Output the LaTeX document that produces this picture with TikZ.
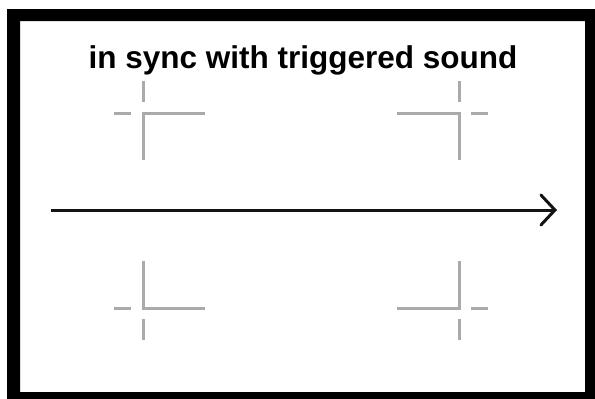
\documentclass[tikz,border=0pt]{standalone}
\usepackage{fontspec}
\setmainfont{Liberation Sans}
\usepackage{xcolor}
\usetikzlibrary{
  arrows.meta,
  positioning
}
\definecolor{framedark}{RGB}{0, 0, 0}
\definecolor{markgray}{RGB}{170, 170, 170}
\definecolor{arrowdark}{RGB}{20, 20, 20}

\begin{document}
\begin{tikzpicture}[x=1pt, y=-1pt,
  cropmark/.style={markgray, line width=3pt},
  timeline/.style={arrowdark, line width=3pt, -{Straight Barb[length=14pt, width=30pt, line cap=round]}}]
  \useasboundingbox (0, 0) rectangle (595, 399);
  \fill[white] (0, 0) rectangle (595, 399);
  \fill[framedark, even odd rule] (7, 9) rectangle (595, 399) (20, 21) rectangle (585, 392);
  \node[font=\bfseries\fontsize{31.5}{38}\selectfont, anchor=base] (title) at (303, 68) {in sync with triggered sound};
  \foreach \cx/\cy/\sx/\sy in {143/113/1/1, 459/113/-1/1, 143/308/1/-1, 459/308/-1/-1} {
    \begin{scope}[shift={(\cx, \cy)}, xscale=\sx, yscale=\sy]
      \draw[cropmark] (62, 0) -- (0, 0) -- (0, 47);
      \draw[cropmark] (-29, 0) -- (-12, 0);
      \draw[cropmark] (0, -32) -- (0, -11);
    \end{scope}
  }
  \coordinate (start) at (51, 210);
  \coordinate (end) at (557, 210);
  \draw[timeline] (start) -- (end);
\end{tikzpicture}
\end{document}
